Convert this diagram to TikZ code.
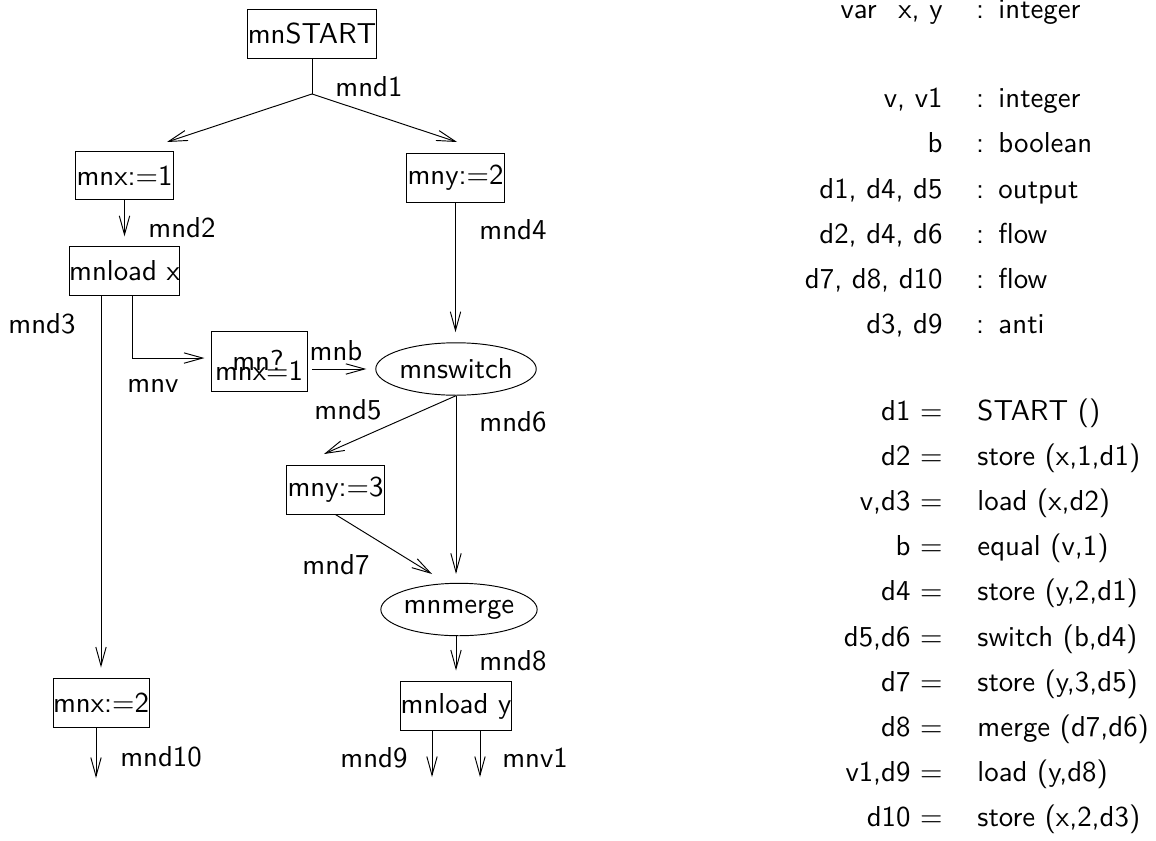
\documentclass[tikz,border=0pt]{standalone}
\usetikzlibrary{arrows.meta,shapes.geometric}
\begin{document}
\begin{tikzpicture}[x=0.347pt,y=-0.347pt,font=\sffamily,line width=0.33pt,
  >={Straight Barb[length=6.5pt,width=3.6pt]},
  box/.style={draw,rectangle,inner sep=0pt,minimum height=16.7pt,minimum width=#1},
  oval/.style={draw,ellipse,inner sep=0pt,minimum width=52pt,minimum height=18.2pt},
  lbl/.style={inner sep=0pt}]
\useasboundingbox (0,0) rectangle (1156,840);

% nodes
\node[box=41.6pt] (start) at (312,34) {mnSTART};
\coordinate (jn) at (312,94);
\node[box=33.7pt] (x1) at (124.5,175.5) {mnx:=1};
\node[box=33.7pt] (y2) at (455.5,178) {mny:=2};
\node[box=37.1pt] (loadx) at (124.5,271) {mnload x};
\node[box=33.3pt,minimum height=20.5pt] (test) at (259,361.5) {};
\node[lbl,anchor=base] (testq) at (258,370) {mn?};
\node[lbl,anchor=base] (testx) at (259,380) {mnx=1};
\node[oval] (switch) at (456,369) {mnswitch};
\node[box=33.7pt] (y3) at (335.5,490) {mny:=3};
\node[oval] (merge) at (459,609.5) {mnmerge};
\node[box=33.3pt] (x2) at (101,703) {mnx:=2};
\node[box=37pt] (loady) at (456,706) {mnload y};

% free ends
\coordinate (x1in) at (167,142);
\coordinate (y2in) at (457,142);
\coordinate (y3in) at (324,454);
\coordinate (mergein) at (432,574);
\coordinate (x2out) at (96,778);
\coordinate (o9) at (432,777);
\coordinate (ov1) at (480,777);

% connectors
\draw (start.south) -- (jn);
\draw[->] (jn) -- (x1in);
\draw[->] (jn) -- (y2in);
\draw[->,shorten >=3.5pt] (x1.south) -- (x1.south |- loadx.north);
\draw[->,shorten >=3.5pt] (y2.south) -- (y2.south |- switch.north);
\draw[->,shorten >=3.8pt] (x2.north |- loadx.south) -- (x2.north);
\draw[->,shorten >=2.1pt] ([xshift=2.6pt]loadx.south) |- ([yshift=1.2pt]test.west);
\draw[->,shorten <=1.7pt,shorten >=3.1pt] (test.east |- switch.west) -- (switch.west);
\draw[->] (switch.south) -- (y3in);
\draw[->,shorten >=3.1pt] (switch.south) -- (switch.south |- merge.north);
\draw[->] (y3.south) -- (mergein);
\draw[->,shorten >=3.8pt] (loady.north |- merge.south) -- (loady.north);
\draw[->] (x2.south -| x2out) -- (x2out);
\draw[->] (loady.south -| o9) -- (o9);
\draw[->] (loady.south -| ov1) -- (ov1);

% connector labels
\node[lbl] (l1) at (369,87) {mnd1};
\node[lbl] (l2) at (182,228) {mnd2};
\node[lbl] (l4) at (513,230) {mnd4};
\node[lbl] (l3) at (42,324) {mnd3};
\node[lbl] (lv) at (153,386) {mnv};
\node[lbl] (lb) at (336,351) {mnb};
\node[lbl] (l5) at (348,410) {mnd5};
\node[lbl] (l6) at (513,422) {mnd6};
\node[lbl] (l7) at (336,565) {mnd7};
\node[lbl] (l8) at (513,661) {mnd8};
\node[lbl] (l10) at (161,757) {mnd10};
\node[lbl] (l9) at (374,758) {mnd9};
\node[lbl] (lv1) at (535,758) {mnv1};

% declarations
\node[lbl,anchor=base east] (dv) at (943,19) {var\hspace{0.75em}x, y};
\node[lbl,anchor=base] (dvc) at (980,19) {:};
\node[lbl,anchor=base west] (dvt) at (998,19) {integer};
\foreach \l/\r [count=\i] in {{v, v1}/integer,b/boolean,{d1, d4, d5}/output,{d2, d4, d6}/flow,{d7, d8, d10}/flow,{d3, d9}/anti}{
  \node[lbl,anchor=base east] (dl\i) at (943,{108+45*(\i-1)}) {\l};
  \node[lbl,anchor=base] (dc\i) at (980,{108+45*(\i-1)}) {:};
  \node[lbl,anchor=base west] (dt\i) at (998,{108+45*(\i-1)}) {\r};
}
% equations
\foreach \l/\r [count=\i] in {{d1 =}/{START ()},{d2 =}/{store (x,1,d1)},{v,d3 =}/{load (x,d2)},{b =}/{equal (v,1)},{d4 =}/{store (y,2,d1)},{d5,d6 =}/{switch (b,d4)},{d7 =}/{store (y,3,d5)},{d8 =}/{merge (d7,d6)},{v1,d9 =}/{load (y,d8)},{d10 =}/{store (x,2,d3)}}{
  \node[lbl,anchor=base east] (el\i) at (943,{420+45.2*(\i-1)}) {\l};
  \node[lbl,anchor=base west] (er\i) at (977,{420+45.2*(\i-1)}) {\r};
}
\end{tikzpicture}
\end{document}
